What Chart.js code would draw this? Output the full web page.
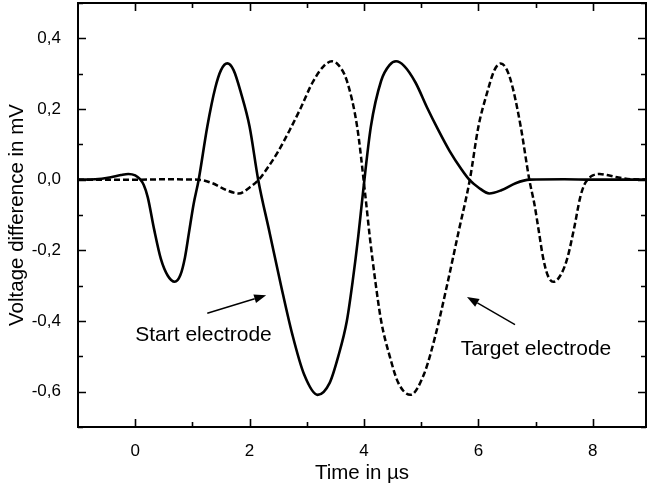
<!DOCTYPE html>
<html>
<head>
<meta charset="utf-8">
<script src="https://cdn.jsdelivr.net/npm/chart.js@4/dist/chart.umd.min.js"></script>
<style>
  html, body { margin: 0; padding: 0; background: #fff; }
</style>
</head>
<body>
<canvas id="chart-area" width="647" height="493"></canvas>
<script>
// time in µs, voltage in mV
var startX = [-1, -0.7, -0.45, -0.25, -0.12, 0.0, 0.08, 0.15, 0.22, 0.33, 0.45, 0.57, 0.69, 0.79, 0.87, 0.94, 1.02, 1.11,
    1.26, 1.4, 1.5, 1.61, 1.72, 1.85, 2.0, 2.15, 2.35, 2.55, 2.75, 2.95, 3.19, 3.4, 3.55, 3.7, 3.8, 3.9, 3.98,
    4.12, 4.3, 4.45, 4.56, 4.7, 4.9, 5.1, 5.3, 5.5, 5.7, 5.84, 6.0, 6.19, 6.4, 6.65, 6.9, 7.5, 8, 9];
var startY = [0, 0.001, 0.006, 0.013, 0.016, 0.012, 0.002, -0.015, -0.05, -0.14, -0.225, -0.272, -0.289, -0.27, -0.22, -0.15, -0.07, 0,
    0.15, 0.26, 0.31, 0.329, 0.31, 0.245, 0.15, 0.0, -0.15, -0.3, -0.44, -0.55, -0.609, -0.575, -0.5, -0.4, -0.29, -0.16, -0.04,
    0.15, 0.28, 0.325, 0.335, 0.322, 0.275, 0.205, 0.14, 0.08, 0.03, 0.0, -0.022, -0.039, -0.03, -0.01, 0, 0.001, 0, 0];

var targetX = [-1, 0, 0.5, 1.1, 1.35, 1.6, 1.81, 2.0, 2.16, 2.3, 2.5, 2.7, 2.9, 3.1, 3.3, 3.44, 3.55, 3.7,
    3.88, 4.02, 4.1, 4.2, 4.3, 4.45, 4.6, 4.81, 5.05, 5.25, 5.45, 5.65, 5.85, 6.0, 6.15, 6.28, 6.39, 6.5, 6.6, 6.74,
    6.89, 6.98, 7.06, 7.13, 7.21, 7.31, 7.43, 7.55, 7.67, 7.78, 7.85, 7.92, 8.0, 8.12, 8.25, 8.45, 8.7, 9];
var targetY = [0, 0, 0.001, 0, -0.01, -0.03, -0.039, -0.022, 0, 0.03, 0.08, 0.14, 0.205, 0.275, 0.322, 0.335, 0.325, 0.28,
    0.15, -0.04, -0.16, -0.29, -0.4, -0.5, -0.575, -0.609, -0.55, -0.44, -0.3, -0.15, 0, 0.15, 0.245, 0.31, 0.329, 0.31, 0.26, 0.15,
    0, -0.07, -0.15, -0.22, -0.27, -0.289, -0.272, -0.225, -0.14, -0.05, -0.015, 0.002, 0.012, 0.016, 0.013, 0.006, 0.001, 0];

var xTickValues = [0, 2, 4, 6, 8];
var xTickLabels = ['0', '2', '4', '6', '8'];
var xMinorTicks = [1, 3, 5, 7];
var yTickValues = [-0.6, -0.4, -0.2, 0, 0.2, 0.4];
var yTickLabels = ['-0,6', '-0,4', '-0,2', '0,0', '0,2', '0,4'];
var yMinorTicks = [-0.7, -0.5, -0.3, -0.1, 0.1, 0.3, 0.5];

// text labels with arrows, in data units
var notes = [
    { text: 'Start electrode', x: 0.0, y: -0.44, from: [1.26, -0.378], to: [2.29, -0.327] },
    { text: 'Target electrode', x: 5.69, y: -0.48, from: [6.64, -0.41], to: [5.8, -0.332] }
];

function toPoints(xs, ys) {
    return xs.map(function (x, i) { return { x: x, y: ys[i] }; });
}

var FONT = "'Liberation Sans', Arial, sans-serif";

var framePlugin = {
    id: 'frame',
    afterDraw: function (chart) {
        var ctx = chart.ctx;
        var a = chart.chartArea;
        var sx = chart.scales.x, sy = chart.scales.y;
        ctx.save();
        ctx.strokeStyle = '#000';
        ctx.lineWidth = 2;
        ctx.strokeRect(a.left, a.top, a.right - a.left, a.bottom - a.top);

        function xTick(v, len) {
            var px = Math.round(sx.getPixelForValue(v)) + 0.5;
            ctx.beginPath();
            ctx.moveTo(px, a.bottom); ctx.lineTo(px, a.bottom - len);
            ctx.moveTo(px, a.top); ctx.lineTo(px, a.top + len);
            ctx.stroke();
        }
        function yTick(v, len) {
            var py = Math.round(sy.getPixelForValue(v)) + 0.5;
            ctx.beginPath();
            ctx.moveTo(a.left, py); ctx.lineTo(a.left + len, py);
            ctx.moveTo(a.right, py); ctx.lineTo(a.right - len, py);
            ctx.stroke();
        }
        ctx.lineWidth = 1.6;
        xTickValues.forEach(function (v) { xTick(v, 8); });
        xMinorTicks.forEach(function (v) { xTick(v, 5); });
        yTickValues.forEach(function (v) { yTick(v, 8); });
        yMinorTicks.forEach(function (v) { yTick(v, 5); });

        // annotations
        ctx.fillStyle = '#000';
        ctx.font = '21px ' + FONT;
        ctx.textAlign = 'left';
        ctx.textBaseline = 'middle';
        notes.forEach(function (n) {
            ctx.fillText(n.text, sx.getPixelForValue(n.x), sy.getPixelForValue(n.y));
            var x0 = sx.getPixelForValue(n.from[0]), y0 = sy.getPixelForValue(n.from[1]);
            var x1 = sx.getPixelForValue(n.to[0]), y1 = sy.getPixelForValue(n.to[1]);
            var ang = Math.atan2(y1 - y0, x1 - x0);
            var hl = 12, hw = 4.5;
            ctx.lineWidth = 1.4;
            ctx.beginPath();
            ctx.moveTo(x0, y0);
            ctx.lineTo(x1 - hl * Math.cos(ang), y1 - hl * Math.sin(ang));
            ctx.stroke();
            ctx.beginPath();
            ctx.moveTo(x1, y1);
            ctx.lineTo(x1 - hl * Math.cos(ang) + hw * Math.sin(ang), y1 - hl * Math.sin(ang) - hw * Math.cos(ang));
            ctx.lineTo(x1 - hl * Math.cos(ang) - hw * Math.sin(ang), y1 - hl * Math.sin(ang) + hw * Math.cos(ang));
            ctx.closePath();
            ctx.fill();
        });
        ctx.restore();
    }
};

function noPadding(scale) {
    scale.paddingTop = 0;
    scale.paddingBottom = 0;
    scale.paddingLeft = 0;
    scale.paddingRight = 0;
}

var ctx = document.getElementById('chart-area').getContext('2d');
var config = {
    type: 'scatter',
    data: {
        datasets: [{
            label: 'Start electrode',
            data: toPoints(startX, startY),
            showLine: true,
            borderColor: '#000',
            borderWidth: 2.6,
            pointRadius: 0,
            cubicInterpolationMode: 'monotone'
        }, {
            label: 'Target electrode',
            data: toPoints(targetX, targetY),
            showLine: true,
            borderColor: '#000',
            borderWidth: 2.5,
            borderDash: [6, 3],
            pointRadius: 0,
            cubicInterpolationMode: 'monotone'
        }]
    },
    options: {
        responsive: false,
        animation: false,
        layout: { padding: { top: 3, right: 1, left: 0, bottom: 0 } },
        plugins: {
            legend: { display: false },
            tooltip: { enabled: false }
        },
        scales: {
            x: {
                type: 'linear',
                min: -1,
                max: 8.93,
                grid: { display: false },
                border: { display: false },
                afterBuildTicks: function (scale) {
                    scale.ticks = xTickValues.map(function (v) { return { value: v }; });
                },
                afterFit: function (scale) { scale.height = 66; noPadding(scale); },
                ticks: {
                    padding: 6,
                    color: '#000',
                    font: { family: FONT, size: 17 },
                    maxRotation: 0,
                    callback: function (value, index) { return xTickLabels[index]; }
                },
                title: {
                    display: true,
                    text: 'Time in µs',
                    color: '#000',
                    font: { family: FONT, size: 20.5 },
                    padding: { top: 0, bottom: 7 }
                }
            },
            y: {
                type: 'linear',
                min: -0.7,
                max: 0.5,
                grid: { display: false },
                border: { display: false },
                afterBuildTicks: function (scale) {
                    scale.ticks = yTickValues.map(function (v) { return { value: v }; });
                },
                afterFit: function (scale) { scale.width = 78; noPadding(scale); },
                ticks: {
                    padding: 9,
                    color: '#000',
                    font: { family: FONT, size: 17 },
                    callback: function (value, index) { return yTickLabels[index]; }
                },
                title: {
                    display: true,
                    text: 'Voltage difference in mV',
                    color: '#000',
                    font: { family: FONT, size: 20.5 },
                    padding: { top: 5, bottom: 0 }
                }
            }
        }
    },
    plugins: [framePlugin]
};
window.myChart = new Chart(ctx, config);
</script>
</body>
</html>
